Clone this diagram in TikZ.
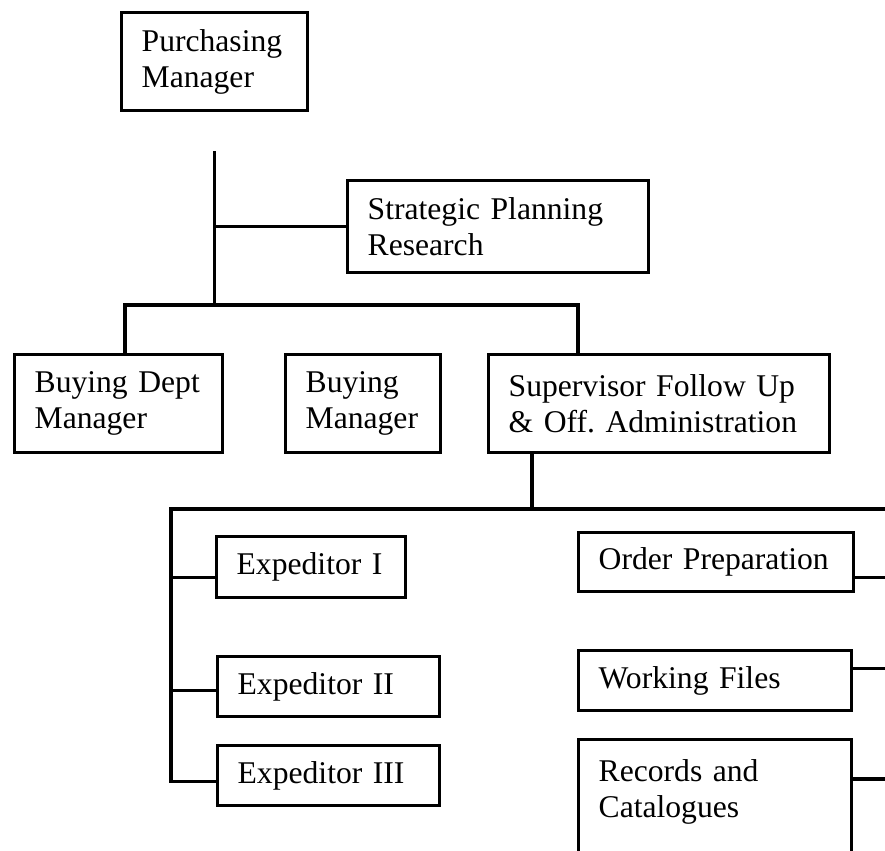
\documentclass[tikz,border=0pt]{standalone}
\usepackage{fontspec}
\setmainfont{Liberation Serif}
\usepackage{tikz}
\usetikzlibrary{positioning}
\frenchspacing

\begin{document}
\begin{tikzpicture}[x=0.02cm, y=-0.02cm, line width=1.9pt,
    box/.style={draw, anchor=north west, align=left, inner xsep=0.4cm,
        inner ysep=0.1cm, font=\fontsize{18}{20.5}\selectfont}]
                % Page frame
                \useasboundingbox (0,0) rectangle (885,850);
                \clip (0,0) rectangle (885,850);

                % Top level
                \node[box, text width=2.92cm, minimum height=1.96cm] (purch) at (120,11) {Purchasing\\Manager};
                \node[box, text width=5.22cm, minimum height=1.84cm] (strat) at (346,179) {Strategic Planning\\Research};

                % Manager row
                \node[box, text width=3.36cm, minimum height=1.96cm] (bdept) at (13,353) {Buying Dept\\Manager};
                \node[box, text width=2.30cm, minimum height=1.96cm] (bman) at (284,353) {Buying\\Manager};
                \node[box, text width=6.02cm, minimum height=1.96cm] (superv) at (487,353) {Supervisor Follow Up\\\& Off. Administration};

                % Left column
                \node[box, text width=2.98cm, minimum height=1.22cm] (exp1) at (215,535) {Expeditor I};
                \node[box, text width=3.64cm, minimum height=1.2cm] (exp2) at (216,655) {Expeditor II};
                \node[box, text width=3.64cm, minimum height=1.2cm] (exp3) at (216,744) {Expeditor III};

                % Right column
                \node[box, text width=4.70cm, minimum height=1.18cm] (order) at (577,531) {Order Preparation};
                \node[box, text width=4.66cm, minimum height=1.2cm] (files) at (577,649) {Working Files};
                \node[box, text width=4.66cm, inner ysep=0.4cm, text depth=2cm] (records) at (577,738) {Records and\\Catalogues};

                % Junctions
                \coordinate[below=0.78cm of purch] (stem);
                \coordinate (j1) at (125,305);
                \coordinate (j2) at (578,305);
                \coordinate (j3) at (532,509);
                \coordinate (lrail) at (171,509);
                \coordinate (rrail) at (900,509);
                \coordinate (e1) at ([yshift=-0.21cm]exp1.west);
                \coordinate (e2) at ([yshift=-0.08cm]exp2.west);
                \coordinate (e3) at ([yshift=-0.12cm]exp3.west);
                \coordinate (r1) at ([yshift=-0.31cm]order.east);
                \coordinate (r2) at ([yshift=0.24cm]files.east);
                \coordinate (r3) at ([yshift=-0.82cm]records.north east);

                % Purchasing manager lines
                \draw (stem) -- (stem |- j1);
                \draw (strat.west) -- (strat.west -| stem);
                \draw (j1 |- bdept.north) -- (j1) -- (j2) -- (j2 |- superv.north);

                % Supervisor lines
                \draw (j3 |- superv.south) -- (j3);
                \draw (rrail) -- (lrail) -- (lrail |- e3) -- (e3);
                \draw (lrail |- e1) -- (e1);
                \draw (lrail |- e2) -- (e2);
                \draw (r1) -- (rrail |- r1);
                \draw (r2) -- (rrail |- r2);
                \draw (r3) -- (rrail |- r3);
\end{tikzpicture}
\end{document}
